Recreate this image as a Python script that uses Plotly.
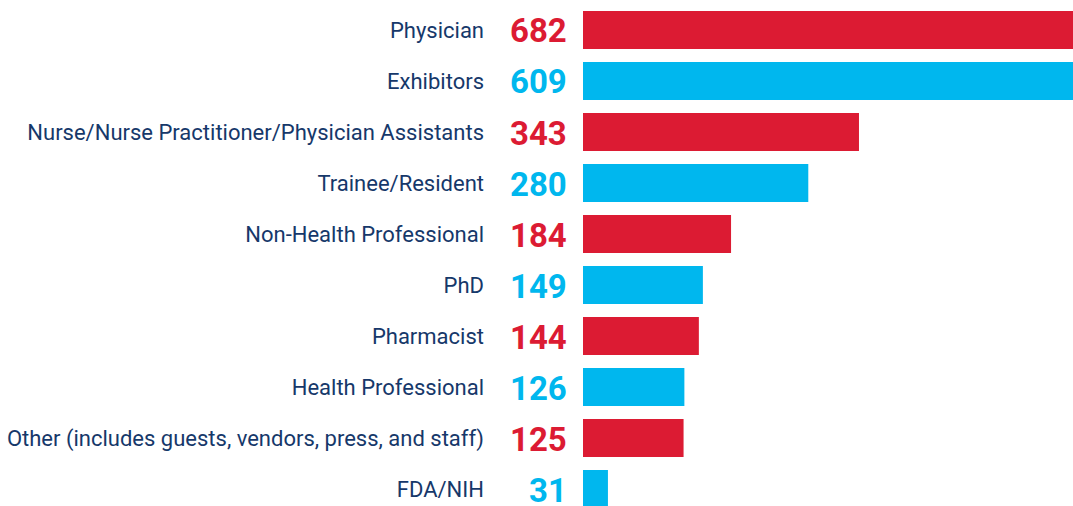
import plotly.graph_objects as go

categories = [
    "Physician",
    "Exhibitors",
    "Nurse/Nurse Practitioner/Physician Assistants",
    "Trainee/Resident",
    "Non-Health Professional",
    "PhD",
    "Pharmacist",
    "Health Professional",
    "Other (includes guests, vendors, press, and staff)",
    "FDA/NIH",
]
values = [682, 609, 343, 280, 184, 149, 144, 126, 125, 31]

RED = "#DC1B33"
BLUE = "#00B7EE"
NAVY = "#16386A"
colors = [RED if i % 2 == 0 else BLUE for i in range(len(categories))]

FONT = "Roboto, Liberation Sans, sans-serif"

fig = go.Figure(
    go.Bar(
        x=values,
        y=categories,
        orientation="h",
        marker=dict(color=colors, line=dict(width=0)),
        width=0.745,
        hoverinfo="x+y",
    )
)

for cat, val, col in zip(categories, values, colors):
    fig.add_annotation(
        x=0, xref="paper", y=cat, yref="y",
        text=f"<b>{val}</b>", showarrow=False,
        xanchor="right", xshift=-14, yshift=-1,
        font=dict(family=FONT, size=33, color=col),
    )

fig.update_layout(
    width=1073, height=506,
    margin=dict(l=583, r=0, t=0, b=0),
    paper_bgcolor="white", plot_bgcolor="white",
    showlegend=False,
    font=dict(family=FONT, color=NAVY),
    xaxis=dict(range=[0, 609], visible=False, fixedrange=True),
    yaxis=dict(
        type="category",
        range=[9.333, -0.588],
        showgrid=False, zeroline=False, showline=False,
        ticks="", ticklabelstandoff=98,
        tickfont=dict(family=FONT, size=22, color=NAVY),
        fixedrange=True,
    ),
)

fig.write_html(
    "out.html",
    config={"displayModeBar": False},
    post_script="document.body.style.margin='0';document.body.style.overflow='hidden';",
)
